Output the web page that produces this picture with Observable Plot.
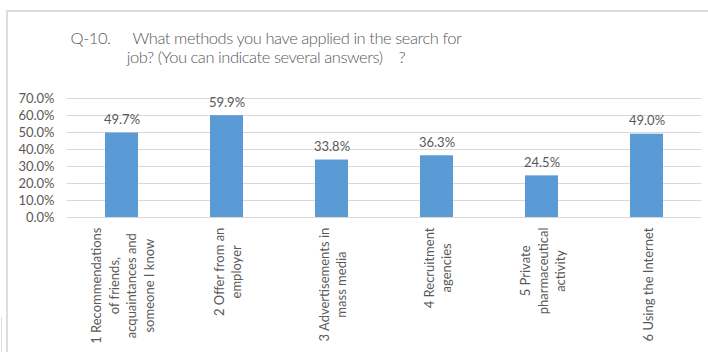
<!DOCTYPE html>
<html>
<head>
<meta charset="utf-8">
<script src="https://cdn.jsdelivr.net/npm/d3@7"></script>
<script src="https://cdn.jsdelivr.net/npm/@observablehq/plot@0.6"></script>
<style>
  html, body { margin: 0; padding: 0; background: #fff; }
  #wrap { position: relative; width: 708px; height: 352px; overflow: hidden; font-family: Lato, "Open Sans", sans-serif; color: #595959; }
  #frame { position: absolute; left: 6px; top: 10px; width: 708px; height: 350px; border-left: 2px solid #dedede; border-top: 2px solid #dedede; }
  #nub { position: absolute; left: 1px; top: 317px; width: 1px; height: 40px; background: #dedede; }
  #title { position: relative; width: 532px; height: 80px; box-sizing: border-box; padding-top: 29px; text-align: center; font-size: 16.5px; letter-spacing: -0.45px; line-height: 19px; font-weight: 300; color: #595959; }
  #chart { position: relative; }
</style>
</head>
<body>
<div id="wrap">
  <div id="frame"></div>
  <div id="nub"></div>
  <div id="title"><span>Q-10.</span><span style="margin-left:22px">What methods you have applied in the search for</span><br><span>job? (You can indicate several answers)</span><span style="margin-left:16px">?</span></div>
  <div id="chart"></div>
</div>
<script>
const categories = [
  "1 Recommendations\nof friends,\nacquaintances and\nsomeone I know",
  "2 Offer from an\nemployer",
  "3 Advertisements in\nmass media",
  "4 Recruitment\nagencies",
  "5 Private\npharmaceutical\nactivity",
  "6 Using the Internet"
];
const values = [49.7, 59.9, 33.8, 36.3, 24.5, 49.0];
const yTicks = [0, 10, 20, 30, 40, 50, 60, 70];

const data = categories.map((c, i) => ({cat: c, value: values[i]}));

const FONT = "Lato, 'Open Sans', sans-serif";
const ctx = document.createElement("canvas").getContext("2d");
ctx.font = "13px Lato";
const maxWidth = c => d3.max(c.split("\n"), l => ctx.measureText(l).width);

const labelMarks = categories.map(c =>
  Plot.text([c], {
    x: d => d,
    frameAnchor: "bottom",
    text: d => d,
    rotate: -90,
    textAnchor: "middle",
    lineAnchor: "middle",
    lineHeight: 1.36,
    dy: 10 + maxWidth(c) / 2,
    fontSize: 13,
    fill: "#595959"
  })
);

const chart = Plot.plot({
  width: 708,
  height: 272,
  marginLeft: 67,
  marginRight: 7,
  marginTop: 18,
  marginBottom: 135,
  style: {fontFamily: FONT, fontSize: "13px", color: "#595959", background: "transparent"},
  x: {domain: categories, paddingInner: 0.69, paddingOuter: 0.345, axis: null},
  y: {domain: [0, 70], axis: null},
  marks: [
    Plot.ruleY(yTicks, {stroke: "#d9d9d9", strokeWidth: 1}),
    Plot.axisY({ticks: yTicks, tickFormat: d => d.toFixed(1) + "%", tickSize: 0, tickPadding: 13, fontSize: 13, fill: "#595959", label: null}),
    Plot.barY(data, {x: "cat", y: "value", fill: "#5B9BD5"}),
    Plot.text(data, {x: "cat", y: "value", text: d => d.value.toFixed(1) + "%", lineAnchor: "bottom", dy: -9, fontSize: 13, fill: "#595959"}),
    ...labelMarks
  ]
});
document.getElementById("chart").appendChild(chart);
</script>
</body>
</html>
